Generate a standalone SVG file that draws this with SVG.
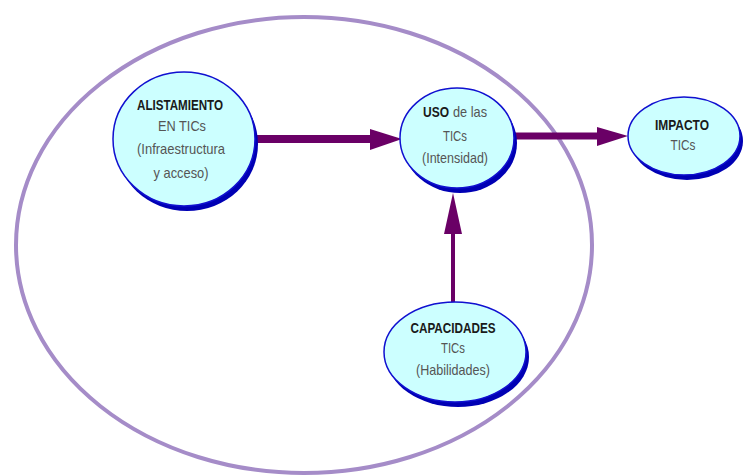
<svg xmlns="http://www.w3.org/2000/svg" width="743" height="475" viewBox="0 0 743 475">
  <style>
    .shadow { fill: #0000B4; }
    .node { fill: #CCFFFF; stroke: #1010D0; stroke-width: 1.5; }
    .t { font-family: "Liberation Sans", Arial, sans-serif; font-size: 15px; text-anchor: middle; }
    .b { font-weight: bold; fill: #1a1a1a; }
    .r { fill: #555555; }
    .conn { stroke: #6A0066; fill: none; }
    .head { fill: #6A0066; }
  </style>

  <rect width="743" height="475" fill="#ffffff"/>

  <!-- enclosing boundary -->
  <ellipse cx="304" cy="245" rx="288" ry="228" fill="none" stroke="#A58CC8" stroke-width="4"/>

  <g id="connectors">
    <line class="conn" x1="256" y1="139" x2="372" y2="139" stroke-width="8"/>
    <polygon class="head" points="370,129 402,139 370,150"/>
    <line class="conn" x1="514" y1="136" x2="600" y2="136" stroke-width="7"/>
    <polygon class="head" points="597,127 628,136 597,146"/>
    <line class="conn" x1="453" y1="303" x2="453" y2="230" stroke-width="4"/>
    <polygon class="head" points="444,234 453,193 462,234"/>
  </g>

  <g id="alistamiento">
    <ellipse class="shadow" cx="187" cy="144" rx="71" ry="67"/>
    <ellipse class="node" cx="184" cy="139" rx="71" ry="67"/>
    <text class="t b" x="180" y="110" textLength="86" lengthAdjust="spacingAndGlyphs">ALISTAMIENTO</text>
    <text class="t r" x="182" y="131" textLength="48" lengthAdjust="spacingAndGlyphs">EN TICs</text>
    <text class="t r" x="181" y="154" textLength="88" lengthAdjust="spacingAndGlyphs">(Infraestructura</text>
    <text class="t r" x="181" y="178" textLength="55" lengthAdjust="spacingAndGlyphs">y acceso)</text>
  </g>

  <g id="uso">
    <ellipse class="shadow" cx="460" cy="143" rx="57" ry="50"/>
    <ellipse class="node" cx="457" cy="138" rx="57" ry="50"/>
    <text class="t b" x="436" y="117" textLength="26" lengthAdjust="spacingAndGlyphs">USO</text>
    <text class="t r" x="470" y="117" textLength="34" lengthAdjust="spacingAndGlyphs">de las</text>
    <text class="t r" x="455" y="141" textLength="24" lengthAdjust="spacingAndGlyphs">TICs</text>
    <text class="t r" x="455" y="163" textLength="66" lengthAdjust="spacingAndGlyphs">(Intensidad)</text>
  </g>

  <g id="impacto">
    <ellipse class="shadow" cx="687" cy="141" rx="56" ry="39"/>
    <ellipse class="node" cx="684" cy="136" rx="56" ry="39"/>
    <text class="t b" x="682" y="130" textLength="54" lengthAdjust="spacingAndGlyphs">IMPACTO</text>
    <text class="t r" x="683" y="150" textLength="25" lengthAdjust="spacingAndGlyphs">TICs</text>
  </g>

  <g id="capacidades">
    <ellipse class="shadow" cx="458" cy="357" rx="71" ry="50"/>
    <ellipse class="node" cx="455" cy="352" rx="71" ry="50"/>
    <text class="t b" x="453" y="333" textLength="85" lengthAdjust="spacingAndGlyphs">CAPACIDADES</text>
    <text class="t r" x="453" y="353" textLength="24" lengthAdjust="spacingAndGlyphs">TICs</text>
    <text class="t r" x="453" y="375" textLength="74" lengthAdjust="spacingAndGlyphs">(Habilidades)</text>
  </g>
</svg>
